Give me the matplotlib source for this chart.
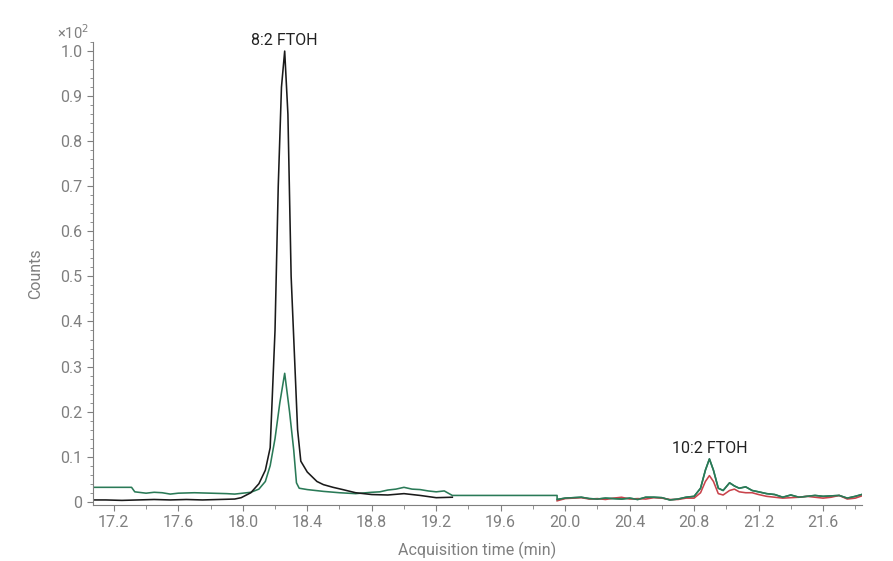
import matplotlib.pyplot as plt
from matplotlib.ticker import MultipleLocator

plt.rcParams['font.family'] = ['Roboto', 'DejaVu Sans']

# segment 1 (black + green)
x1 = [17.07, 17.15, 17.25, 17.35, 17.45, 17.55, 17.65, 17.75, 17.85, 17.95, 17.99, 18.05,
      18.1, 18.14, 18.17, 18.2, 18.22, 18.24, 18.26, 18.28, 18.3, 18.32, 18.34, 18.36,
      18.4, 18.46, 18.5, 18.56, 18.62, 18.7, 18.8, 18.9, 19.0, 19.1, 19.2, 19.3]
black = [0.004, 0.004, 0.003, 0.004, 0.005, 0.004, 0.005, 0.004, 0.005, 0.006, 0.009, 0.02,
         0.04, 0.07, 0.12, 0.38, 0.7, 0.92, 1.0, 0.86, 0.5, 0.33, 0.16, 0.09,
         0.066, 0.045, 0.038, 0.032, 0.027, 0.02, 0.016, 0.015, 0.018, 0.014, 0.009, 0.01]

xg1 = [17.07, 17.31, 17.33, 17.4, 17.45, 17.5, 17.55, 17.6, 17.7, 17.8, 17.9, 17.95, 18.0,
       18.05, 18.1, 18.14, 18.17, 18.2, 18.23, 18.26, 18.29, 18.316, 18.333, 18.35, 18.4,
       18.45, 18.5, 18.6, 18.7, 18.8, 18.85, 18.9, 18.95, 19.0, 19.05, 19.1, 19.15, 19.2,
       19.25, 19.28, 19.3, 19.95]
green1 = [0.032, 0.032, 0.022, 0.019, 0.021, 0.020, 0.017, 0.019, 0.020, 0.019, 0.018, 0.017,
          0.019, 0.021, 0.028, 0.045, 0.08, 0.14, 0.22, 0.285, 0.2, 0.115, 0.042, 0.03, 0.027,
          0.025, 0.023, 0.02, 0.018, 0.021, 0.022, 0.026, 0.028, 0.032, 0.028, 0.027, 0.024,
          0.022, 0.024, 0.018, 0.014, 0.014]

# segment 2 (green + red)
x2 = [19.95, 20.0, 20.05, 20.1, 20.15, 20.2, 20.25, 20.3, 20.35, 20.4, 20.45, 20.5, 20.55,
      20.6, 20.65, 20.7, 20.75, 20.8, 20.84, 20.87, 20.895, 20.92, 20.95, 20.98, 21.02,
      21.05, 21.08, 21.12, 21.16, 21.2, 21.25, 21.3, 21.35, 21.4, 21.45, 21.5, 21.55,
      21.6, 21.65, 21.7, 21.75, 21.8, 21.84]
green2 = [0.005, 0.008, 0.009, 0.01, 0.007, 0.006, 0.008, 0.007, 0.006, 0.008, 0.005, 0.01,
          0.01, 0.009, 0.004, 0.006, 0.01, 0.012, 0.03, 0.07, 0.095, 0.07, 0.03, 0.025, 0.042,
          0.035, 0.03, 0.033, 0.025, 0.022, 0.018, 0.016, 0.01, 0.015, 0.01, 0.012, 0.014,
          0.012, 0.013, 0.014, 0.008, 0.012, 0.016]
red2 = [0.002, 0.007, 0.008, 0.009, 0.006, 0.007, 0.005, 0.008, 0.01, 0.006, 0.007, 0.006,
        0.009, 0.008, 0.005, 0.005, 0.008, 0.008, 0.02, 0.045, 0.058, 0.045, 0.018, 0.015,
        0.025, 0.028, 0.022, 0.02, 0.02, 0.016, 0.012, 0.01, 0.008, 0.009, 0.01, 0.012,
        0.01, 0.008, 0.01, 0.014, 0.006, 0.008, 0.013]

peaks = ['8:2 FTOH', '10:2 FTOH']
peak_x = [18.26, 20.895]
peak_y = [1.0, 0.095]

grey = '#7f7f7f'
fig = plt.figure(figsize=(8.93, 5.61), dpi=100)
ax = fig.add_axes([0.104, 0.1, 0.861, 0.825])

ax.plot(xg1 + x2, green1 + green2, color='#2a7a57', lw=1.15)
ax.plot(x1, black, color='#1a1a1a', lw=1.15)
ax.plot(x2, red2, color='#c8434b', lw=1.15)
ax.plot(x2, green2, color='#2a7a57', lw=1.15)

for name, px, py in zip(peaks, peak_x, peak_y):
    ax.text(px, py + 0.006, name, ha='center', va='bottom', fontsize=11.5, color='#222222')

ax.set_xlim(17.07, 21.84)
ax.set_ylim(-0.007, 1.02)
ax.xaxis.set_minor_locator(MultipleLocator(0.2))
ax.yaxis.set_minor_locator(MultipleLocator(0.02))
ax.set_xticks([17.2 + 0.4 * i for i in range(12)])
ax.set_xticklabels(['%.1f' % (17.2 + 0.4 * i) for i in range(12)])
ax.set_yticks([0.1 * i for i in range(11)])
ax.set_yticklabels(['0'] + ['%.1f' % (0.1 * i) for i in range(1, 11)])

for s in ['top', 'right']:
    ax.spines[s].set_visible(False)
for s in ['left', 'bottom']:
    ax.spines[s].set_color(grey)
ax.tick_params(which='both', colors=grey, labelsize=11.5, direction='out')
ax.tick_params(which='major', length=4)
ax.tick_params(which='minor', length=3)
ax.tick_params(axis='y', which='minor', length=2.5)

ax.set_xlabel('Acquisition time (min)', color=grey, fontsize=11.5, labelpad=8)
ax.set_ylabel('Counts', color=grey, fontsize=11.5, labelpad=12)
fig.text(0.064, 0.93, '×10$^2$', color=grey, fontsize=10.5)

plt.savefig('out.png')
